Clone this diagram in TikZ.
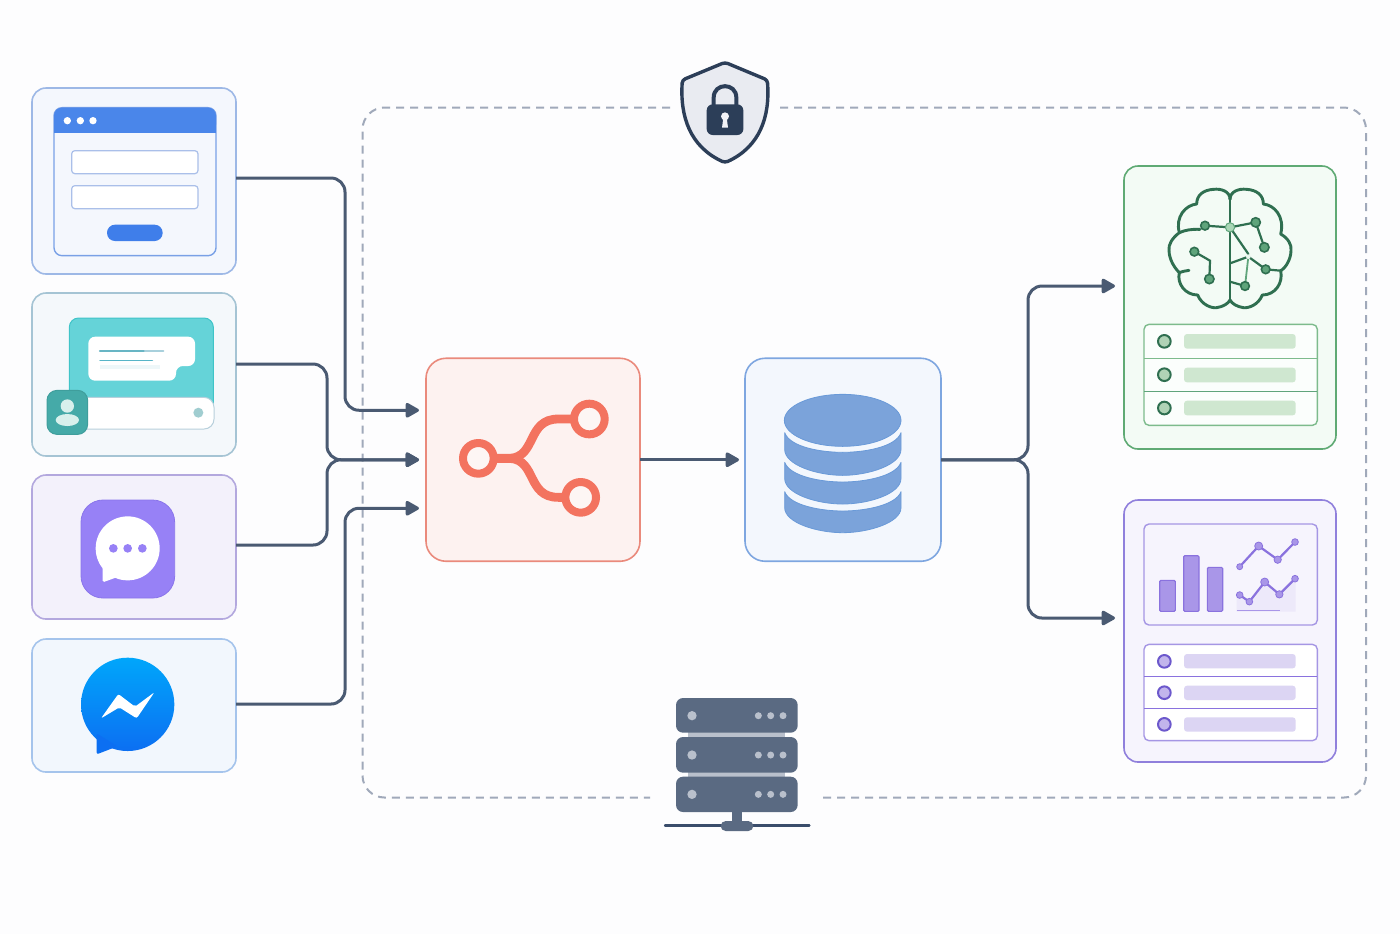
\documentclass[tikz,border=0pt]{standalone}
\usetikzlibrary{arrows.meta,calc}
\definecolor{bgc}{HTML}{FDFDFE}
\definecolor{connc}{HTML}{4A5A72}
\definecolor{dashc}{HTML}{A0A9BA}
\definecolor{slatec}{HTML}{5A6A82}
\definecolor{slatel}{HTML}{B9C0CC}
\definecolor{navyc}{HTML}{2C3E58}
\definecolor{redc}{HTML}{F3735F}
\definecolor{dbc}{HTML}{7BA3DA}
\definecolor{dbl}{HTML}{6A9AD8}
\definecolor{grc}{HTML}{2F6F50}
\definecolor{grm}{HTML}{5FA47B}
\definecolor{grl}{HTML}{A9D6B6}
\definecolor{puc}{HTML}{8A72DE}
\definecolor{pul}{HTML}{A996E8}
\definecolor{vio}{HTML}{9781F6}
\definecolor{formb}{HTML}{9DB8E6}\definecolor{formf}{HTML}{F4F7FD}
\definecolor{chatb}{HTML}{A5C4D4}\definecolor{chatf}{HTML}{F4F8FB}
\definecolor{purb}{HTML}{B3A8DE}\definecolor{purf}{HTML}{F3F1FB}
\definecolor{msgb}{HTML}{A5C4EC}\definecolor{msgf}{HTML}{F2F7FD}
\definecolor{redb}{HTML}{EA8A7C}\definecolor{redf}{HTML}{FDF2F0}
\definecolor{dbb}{HTML}{7EA6E0}\definecolor{dbf}{HTML}{F3F7FD}
\definecolor{aib}{HTML}{5FAA74}\definecolor{aif}{HTML}{F3FBF5}
\definecolor{vizb}{HTML}{9080DC}\definecolor{vizf}{HTML}{F6F4FD}
\definecolor{HTMLa}{HTML}{79A0E6}\definecolor{HTMLb}{HTML}{4A86EA}
\definecolor{HTMLc}{HTML}{AABFE9}\definecolor{HTMLd}{HTML}{3F7EEA}
\definecolor{HTMLe}{HTML}{3FC4C8}\definecolor{HTMLf}{HTML}{65D3D8}
\definecolor{HTMLg}{HTML}{EEF7F9}\definecolor{HTMLh}{HTML}{68B5C4}
\definecolor{HTMLi}{HTML}{A8D0DC}\definecolor{HTMLj}{HTML}{58B5C8}
\definecolor{HTMLk}{HTML}{B8D0DC}\definecolor{HTMLl}{HTML}{A0CDD0}
\definecolor{HTMLm}{HTML}{3F9E9C}\definecolor{HTMLn}{HTML}{45AAA8}
\definecolor{HTMLo}{HTML}{D8F0EC}\definecolor{HTMLp}{HTML}{8A75EA}
\definecolor{HTMLq}{HTML}{00A6FB}\definecolor{HTMLr}{HTML}{0C6FF2}
\definecolor{HTMLs}{HTML}{E9EBF1}\definecolor{HTMLt}{HTML}{F2F3F7}
\definecolor{HTMLu}{HTML}{3A4D6B}\definecolor{HTMLv}{HTML}{FDF6F4}
\definecolor{HTMLw}{HTML}{E8F5EC}\definecolor{HTMLx}{HTML}{7DBB8C}
\definecolor{HTMLy}{HTML}{FBFEFC}\definecolor{HTMLz}{HTML}{B0D3B6}
\definecolor{HTMLA}{HTML}{CFE7D0}\definecolor{HTMLB}{HTML}{A596E4}
\definecolor{HTMLC}{HTML}{EDE9FA}\definecolor{HTMLD}{HTML}{6C58CC}
\definecolor{HTMLE}{HTML}{C2B5EC}\definecolor{HTMLF}{HTML}{DCD5F3}
\tikzset{
  card/.style={draw=#1b,fill=#1f,rectangle,rounded corners=7pt,line width=.8pt,inner sep=0pt,outer sep=0pt},
  conn/.style={draw=connc,line width=1.5pt,rounded corners=7pt,-{Triangle[length=7.5pt,width=8pt,round]}},
  zoomed/.style={x=.16667pt,y=-.16667pt},
  brainline/.style={draw=grc,line width=1.45pt,line cap=round,line join=round},
  brainthin/.style={draw=grc,line width=1.1pt,line cap=round},
}
\begin{document}
\begin{tikzpicture}[x=.5pt,y=-.5pt]
\useasboundingbox[fill=bgc] (0,0) rectangle (1400,934);

% dashed enclosure
\coordinate (dashA) at (670,107.5);
\coordinate (dashB) at (780,107.5);
\coordinate (dashC) at (820,797.5);
\coordinate (dashD) at (650,797.5);
\draw[dashc,line width=1pt,dash pattern=on 4pt off 3pt,rounded corners=11pt]
  (dashA) -- (362.5,107.5) -- (362.5,797.5) -- (dashD);
\draw[dashc,line width=1pt,dash pattern=on 4pt off 3pt,rounded corners=11pt]
  (dashB) -- (1366,107.5) -- (1366,797.5) -- (dashC);

% cards
\node[card=form,minimum width=102pt,minimum height=93pt] (form) at (134,181) {};
\node[card=chat,minimum width=102pt,minimum height=81.5pt] (chat) at (134,374.5) {};
\node[card=pur,minimum width=102pt,minimum height=72pt] (purple) at (134,547) {};
\node[card=msg,minimum width=102pt,minimum height=66.5pt] (msgr) at (134,705.5) {};
\node[card=red,rounded corners=10pt,minimum width=107pt,minimum height=101.5pt] (split) at (533,459.75) {};
\node[card=db,rounded corners=10pt,minimum width=98pt,minimum height=101.5pt] (db) at (843,459.75) {};
\node[card=ai,minimum width=106pt,minimum height=141.5pt] (ai) at (1230,307.5) {};
\node[card=viz,minimum width=106pt,minimum height=131pt] (viz) at (1230,631) {};

% connectors
\draw[conn,shorten >=3.5pt] ([yshift=1.5pt]form.east) -- ++(109,0) |- ([yshift=24.75pt]split.west);
\draw[conn,shorten >=3.5pt] ([yshift=5.25pt]chat.east) -- ++(91,0) |- (split.west);
\draw[conn,shorten >=3.5pt] ([yshift=1pt]purple.east) -- ++(91,0) |- (split.west);
\draw[conn,shorten >=3.5pt] ([yshift=.75pt]msgr.east) -- ++(109,0) |- ([yshift=-24.25pt]split.west);
\draw[conn,shorten >=3pt] (split.east) -- (db.west);
\draw[conn,shorten >=4.5pt] (db.east) -- ++(87,0) |- ([yshift=10.75pt]ai.west);
\draw[conn,shorten >=4.5pt] (db.east) -- ++(87,0) |- ([yshift=6.5pt]viz.west);

% form + chat icons (origin 20,80)
\begin{scope}[shift={(20,80)},zoomed]
  \draw[draw=HTMLa,fill=formf,line width=.7pt,rounded corners=4pt] (102,83) rectangle (588,527);
  \fill[HTMLb,rounded corners=4pt] (102,158) -- (102,83) -- (588,83) -- (588,158) -- cycle;
  \fill[HTMLb] (102,135) rectangle (588,158);
  \foreach \cx in {142,181,219} \fill[white] (\cx,122) circle [radius=11];
  \draw[draw=HTMLc,fill=white,line width=.6pt,rounded corners=1.6pt] (155,212) rectangle (534,281);
  \draw[draw=HTMLc,fill=white,line width=.6pt,rounded corners=1.6pt] (155,317) rectangle (534,386);
  \fill[HTMLd,rounded corners=4pt] (261,434) rectangle (428,483);
  % chat
  \draw[draw=HTMLe,fill=HTMLf,line width=.5pt,rounded corners=4.6pt] (148,1010) -- (148,714) -- (580,714) -- (580,1010) -- cycle;
  \fill[white,rounded corners=3.4pt] (205,770) -- (525,770) -- (525,858) -- (468,858) -- (468,902) -- (205,902) -- cycle;
  \fill[HTMLg] (240,855) rectangle (420,868);
  \draw[HTMLh,line width=1.1pt,line cap=round] (240,812) -- (375,812);
  \draw[HTMLi,line width=1.1pt,line cap=round] (375,812) -- (430,812);
  \draw[HTMLj,line width=.7pt,line cap=round] (240,842) -- (397,842);
  \draw[draw=HTMLk,fill=white,line width=.5pt,rounded corners=5pt] (170,952) -- (582,952) -- (582,1047) -- (170,1047) -- cycle;
  \fill[HTMLl] (535,998) circle [radius=15];
  \draw[draw=HTMLm,fill=HTMLn,line width=.5pt,rounded corners=5pt] (81,931) rectangle (203,1063);
  \fill[HTMLo] (142,978) circle [radius=20];
  \fill[HTMLo] (142,1020) ellipse [x radius=35,y radius=18];
\end{scope}

% purple bubble + messenger (origin 20,470)
\begin{scope}[shift={(20,470)},zoomed]
  \draw[draw=HTMLp,fill=vio,line width=.4pt,rounded corners=11pt] (183,90) rectangle (464,384);
  \fill[white] (323,235) circle [radius=96];
  \fill[white,rounded corners=.8pt] (248,290) -- (248,337) -- (295,320) -- cycle;
  \foreach \cx in {280,323,367} \fill[vio] (\cx,235) circle [radius=13];
  \shade[top color=HTMLq,bottom color=HTMLr] (323,703) circle [radius=140];
  \fill[HTMLr,rounded corners=1pt] (230,790) -- (230,853) -- (292,829) -- cycle;
  \fill[white,rounded corners=1pt] (243,745) -- (295,672) -- (345,710) -- (403,667) -- (350,745) -- (298,712) -- cycle;
\end{scope}

% shield (origin 650,50)
\begin{scope}[shift={(650,50)},zoomed]
  \draw[draw=navyc,fill=HTMLs,line width=1.7pt,line join=round,rounded corners=1.5pt]
    (225,37) -- (352,90) .. controls (360,200) and (330,290) .. (225,338) .. controls (120,290) and (90,200) .. (97,90) -- cycle;
  \draw[navyc,line width=2pt] (191,170) -- (191,143) .. controls (191,97) and (259,97) .. (259,143) -- (259,170);
  \fill[navyc,rounded corners=3pt] (170,163) rectangle (280,255);
  \fill[HTMLt] (225,199) circle [radius=12];
  \fill[HTMLt] (220,203) -- (216,233) -- (234,233) -- (230,203) -- cycle;
\end{scope}

% server (origin 650,690)
\begin{scope}[shift={(650,690)},zoomed]
  \fill[slatel] (115,120) rectangle (405,150);
  \fill[slatel] (115,240) rectangle (405,270);
  \foreach \ya/\yb/\yc in {24/128/77,141/248/195,260/366/313}{
    \fill[slatec,rounded corners=3.5pt] (78,\ya) rectangle (443,\yb);
    \fill[slatel] (126,\yc) circle [radius=14];
    \foreach \cx in {325,362,399} \fill[slatel] (\cx,\yc) circle [radius=10.5];
  }
  \fill[slatec] (247,360) rectangle (277,400);
  \draw[HTMLu,line width=1.2pt,line cap=round] (45,407) -- (478,407);
  \fill[slatec,rounded corners=2.5pt] (212,393) rectangle (310,423);
\end{scope}

% share icon (origin 415,350)
\begin{scope}[shift={(415,350)},zoomed]
  \draw[redc,line width=4.4pt] (190,325) -- (285,325) .. controls (365,320) and (335,207) .. (430,207) -- (523,207);
  \draw[redc,line width=4.4pt] (285,325) .. controls (365,330) and (335,442) .. (430,442) -- (497,442);
  \foreach \cx/\cy in {190/325,523/207,497/442}
    \draw[draw=redc,fill=HTMLv,line width=4pt] (\cx,\cy) circle [radius=46];
\end{scope}

% database icon (origin 735,350)
\begin{scope}[shift={(735,350)},zoomed]
  \tikzset{dbshape/.style={draw=dbl,fill=dbc,line width=.4pt,line join=round}}
  \draw[dbshape] (323,211) ellipse [x radius=175,y radius=78];
  \draw[dbshape] (149,248) .. controls (165,292) and (260,307) .. (323,307) .. controls (386,307) and (482,292) .. (498,248)
    -- (498,298) .. controls (498,345) and (400,376) .. (323,376) .. controls (246,376) and (149,345) .. (149,298) -- cycle;
  \draw[dbshape] (149,337) .. controls (165,380) and (260,396) .. (323,396) .. controls (386,396) and (482,380) .. (498,337)
    -- (498,385) .. controls (498,432) and (400,462) .. (323,462) .. controls (246,462) and (149,432) .. (149,385) -- cycle;
  \draw[dbshape] (149,425) .. controls (165,467) and (260,483) .. (323,483) .. controls (386,483) and (482,467) .. (498,425)
    -- (498,473) .. controls (498,518) and (400,548) .. (323,548) .. controls (246,548) and (149,518) .. (149,473) -- cycle;
\end{scope}

% brain + list (origin 1115,160)
\begin{scope}[shift={(1115,160)},zoomed]
  \draw[brainline]
    (345,118) .. controls (345,95) and (370,85) .. (395,88) .. controls (425,90) and (445,105) .. (445,132)
    .. controls (478,135) and (510,170) .. (497,222)
    .. controls (520,235) and (530,255) .. (528,270) .. controls (528,300) and (510,325) .. (497,332)
    .. controls (505,370) and (480,405) .. (442,405)
    .. controls (430,435) and (400,445) .. (385,443) .. controls (365,440) and (350,430) .. (345,420);
  \draw[brainline]
    (345,118) .. controls (345,95) and (320,85) .. (295,88) .. controls (265,90) and (245,105) .. (245,132)
    .. controls (212,135) and (180,170) .. (193,218)
    .. controls (170,235) and (160,255) .. (162,270) .. controls (162,300) and (180,325) .. (193,338)
    .. controls (185,370) and (210,405) .. (248,405)
    .. controls (260,435) and (290,445) .. (305,443) .. controls (325,440) and (340,430) .. (345,420);
  \draw[brainline] (345,118) -- (345,420);
  \draw[brainline] (193,218) .. controls (210,210) and (230,207) .. (255,208);
  \draw[brainline] (193,338) .. controls (200,335) and (212,332) .. (222,331);
  \draw[brainthin] (270,197) -- (345,202) -- (422,187) -- (448,262);
  \draw[brainthin] (345,202) -- (400,282);
  \draw[brainthin] (345,310) -- (400,290) -- (452,328) -- (497,332);
  \draw[draw=grm,line width=.9pt] (400,290) -- (390,378);
  \draw[brainthin] (345,365) -- (390,378);
  \draw[brainthin] (238,275) -- (285,302) -- (283,357);
  \foreach \cx/\cy/\rr in {270/197/13,422/187/14,448/262/14,452/328/13,390/378/13,238/275/13,283/357/14}
    \draw[draw=grc,fill=grm,line width=.8pt] (\cx,\cy) circle [radius=\rr];
  \draw[draw=grm,fill=grl,line width=.5pt] (345,202) circle [radius=14];
  \fill[HTMLw] (400,290) circle [radius=7];
  % list
  \draw[draw=HTMLx,fill=HTMLy,line width=.7pt,rounded corners=2.5pt] (87,493) rectangle (607,796);
  \draw[HTMLx,line width=.7pt] (87,595) -- (607,595);
  \draw[grm,line width=.7pt] (87,694) -- (607,694);
  \foreach \cy in {544,644,744}
    \draw[draw=grc,fill=HTMLz,line width=1pt] (148,\cy) circle [radius=19];
  \foreach \ya in {522,623,722}
    \fill[HTMLA,rounded corners=1.5pt] (207,\ya) rectangle (542,\ya+44);
\end{scope}

% analytics (origin 1115,495)
\begin{scope}[shift={(1115,495)},zoomed]
  \draw[draw=HTMLB,fill=vizf,line width=.7pt,rounded corners=2.5pt] (87,87) rectangle (607,390);
  \foreach \xa/\ya/\xb in {134/256/181,206/182/252,277/217/323}
    \draw[draw=puc,fill=pul,line width=.6pt,rounded corners=.6pt] (\xa,\ya) rectangle (\xb,349);
  \fill[HTMLC] (365,310) -- (374,300) -- (403,320) -- (449,261) -- (493,298) -- (542,251) -- (542,350) -- (365,350) -- cycle;
  \draw[pul,line width=.5pt] (365,346) -- (495,346);
  \draw[puc,line width=1.1pt] (374,215) -- (431,153) -- (488,194) -- (540,141);
  \draw[puc,line width=1.1pt] (374,300) -- (403,320) -- (449,261) -- (493,298) -- (540,251);
  \foreach \cx/\cy/\rr in {374/215/9,431/153/12,488/194/11,540/141/10,374/300/10,403/320/10,449/261/12,493/298/11,540/251/10}
    \draw[draw=puc,fill=pul,line width=.4pt] (\cx,\cy) circle [radius=\rr];
  \draw[draw=HTMLB,fill=white,line width=.7pt,rounded corners=2.5pt] (87,448) rectangle (607,737);
  \draw[puc,line width=.7pt] (87,545) -- (607,545);
  \draw[puc,line width=.7pt] (87,640) -- (607,640);
  \foreach \cy in {499,593,688}
    \draw[draw=HTMLD,fill=HTMLE,line width=1pt] (148,\cy) circle [radius=19];
  \foreach \ya in {477,572,667}
    \fill[HTMLF,rounded corners=1.5pt] (207,\ya) rectangle (542,\ya+43);
\end{scope}
\end{tikzpicture}
\end{document}
